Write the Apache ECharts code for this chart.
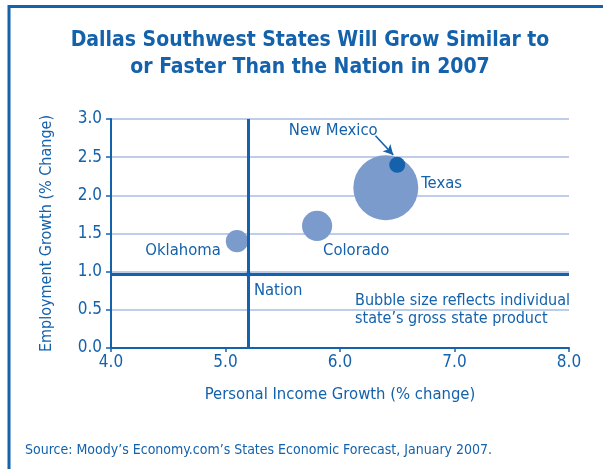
<!DOCTYPE html>
<html><head><meta charset="utf-8">
<script src="https://cdn.jsdelivr.net/npm/echarts@6/dist/echarts.min.js"></script>
<style>html,body{margin:0;padding:0;background:#fff}#c{width:603px;height:469px}</style>
</head><body><div id="c"></div>
<script>
var FONT = "'Liberation Sans Narrow','DejaVu Sans Condensed',sans-serif";
var states = ['Oklahoma', 'Colorado', 'Texas', 'New Mexico'];
var incomeGrowth = [5.1, 5.8, 6.4, 6.5];
var employmentGrowth = [1.4, 1.6, 2.1, 2.4];
var grossStateProduct = [125, 230, 1065, 65];
var nation = {name: 'Nation', income: 5.2, employment: 0.97};
var yTicks = [0, 0.5, 1.0, 1.5, 2.0, 2.5, 3.0];
var xTicks = [4, 5, 6, 7, 8];
var arrowFrom = [6.31, 2.78], arrowTo = [6.465, 2.53];

var BLUE = '#1461ac', LIGHT = '#7b9bcc', GRID = '#a9bde2';
var labelPos = {
  'Oklahoma': {position: 'left', offset: [0, 10]},
  'Colorado': {position: [21, 40], align: 'left', verticalAlign: 'middle'},
  'Texas': {position: 'right', offset: [-2, -4]},
  'New Mexico': {position: [-56, -26], align: 'center', verticalAlign: 'middle'}
};
var data = states.map(function (s, i) {
  var lp = labelPos[s];
  return {
    name: s,
    value: [incomeGrowth[i], employmentGrowth[i], grossStateProduct[i]],
    itemStyle: {color: s === 'New Mexico' ? BLUE : LIGHT},
    label: Object.assign({show: true, formatter: s}, lp)
  };
});
var chart = echarts.init(document.getElementById('c'));
chart.setOption({
  animation: false,
  textStyle: {fontFamily: FONT},
  title: {
    text: 'Dallas Southwest States Will Grow Similar to\nor Faster Than the Nation in 2007',
    left: 305, top: 22, textAlign: 'center',
    textStyle: {fontFamily: FONT, fontWeight: 'bold', fontSize: 21, lineHeight: 27, color: BLUE}
  },
  grid: {left: 111, right: 34, top: 119, bottom: 121},
  xAxis: {
    type: 'value', min: xTicks[0], max: xTicks[xTicks.length - 1], interval: 1,
    name: 'Personal Income Growth (% change)', nameLocation: 'middle', nameGap: 38,
    nameTextStyle: {fontFamily: FONT, fontSize: 16.5, color: BLUE},
    axisLine: {lineStyle: {color: BLUE, width: 2}},
    axisTick: {show: true, length: 4, lineStyle: {color: BLUE, width: 1.5}},
    splitLine: {show: false},
    axisLabel: {fontFamily: FONT, fontSize: 17, color: BLUE, margin: 6, formatter: function (v) { return v.toFixed(1); }}
  },
  yAxis: {
    type: 'value', min: yTicks[0], max: yTicks[yTicks.length - 1], interval: 0.5,
    name: 'Employment Growth (% Change)', nameLocation: 'middle', nameGap: 56,
    nameTextStyle: {fontFamily: FONT, fontSize: 16, color: BLUE},
    axisLine: {show: true, lineStyle: {color: BLUE, width: 2}},
    axisTick: {show: true, length: 5, lineStyle: {color: BLUE, width: 1.5}},
    splitLine: {show: true, lineStyle: {color: GRID, width: 1.5}},
    axisLabel: {fontFamily: FONT, fontSize: 17, color: BLUE, margin: 9, formatter: function (v) { return v.toFixed(1); }}
  },
  graphic: [
    {type: 'polyline', shape: {points: [[9, 469], [9, 6.5], [603, 6.5]]}, style: {stroke: BLUE, lineWidth: 3, fill: null}},
    {type: 'text', left: 355, top: 292, style: {text: 'Bubble size reflects individual\nstate\u2019s gross state product', font: '16px ' + FONT, lineHeight: 18, fill: BLUE}},
    {type: 'text', left: 25, top: 443, style: {text: 'Source: Moody\u2019s Economy.com\u2019s States Economic Forecast, January 2007.', font: '14px ' + FONT, fill: BLUE}}
  ],
  series: [
    {
      type: 'scatter', name: 'lines', data: [], z: 1, silent: true,
      markLine: {
        silent: true, symbol: 'none', label: {show: false},
        lineStyle: {color: BLUE, width: 3, type: 'solid'},
        data: [{xAxis: nation.income}, {yAxis: nation.employment}]
      }
    },
    {
      type: 'scatter', name: 'States', z: 3,
      data: data,
      symbolSize: function (v) { return 1.99 * Math.sqrt(v[2]); },
      itemStyle: {opacity: 1},
      label: {color: BLUE, fontFamily: FONT, fontSize: 16.5, textBorderWidth: 0},
      markLine: {
        silent: true, symbol: ['none', 'arrow'], symbolSize: [8, 10], label: {show: false},
        lineStyle: {color: BLUE, width: 1.5, type: 'solid'},
        data: [[{coord: arrowFrom}, {coord: arrowTo}]]
      }
    },
    {
      type: 'scatter', name: 'Nation', z: 4,
      data: [{name: nation.name, value: [nation.income, nation.employment]}],
      symbolSize: 6, itemStyle: {color: '#8aa6d4'},
      label: {show: true, formatter: nation.name, position: [8.5, 20], align: 'left', verticalAlign: 'middle', color: BLUE, fontFamily: FONT, fontSize: 16.5, textBorderWidth: 0, opacity: 1}
    }
  ]
});
</script></body></html>
